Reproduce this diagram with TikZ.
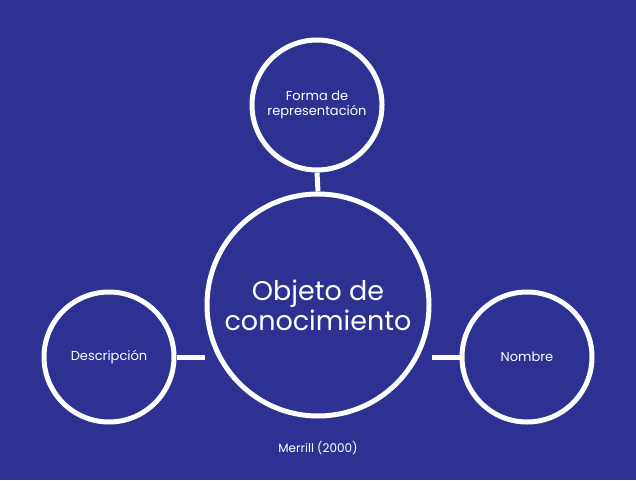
\documentclass[tikz,border=0pt]{standalone}
\usepackage{fontspec}
\setmainfont{Poppins}
\definecolor{bg}{HTML}{2E3192}
\begin{document}
\begin{tikzpicture}[x=1pt,y=1pt,
  circ/.style={circle,draw=white,line width=5pt,text=white,align=center,inner sep=0pt},
  conn/.style={draw=white,line width=5pt}]
\fill[bg] (0,0) rectangle (636,480);
\useasboundingbox (0,0) rectangle (636,480);
\node[circ,minimum size=222pt,font=\fontsize{27}{30}\selectfont] (c) at (318,175) {Objeto de\\conocimiento};
\node[circ,minimum size=130pt,font=\fontsize{13}{15}\selectfont] (t) at (317,375) {Forma de\\representación};
\node[circ,minimum size=130pt,font=\fontsize{13}{15}\selectfont] (l) at (109,123) {Descripción};
\node[circ,minimum size=130pt,font=\fontsize{13}{15}\selectfont] (r) at (527,123) {Nombre};
\draw[conn] (t.south) -- (c.north);
\draw[conn] (l.east) -- (l.east -| c.west);
\draw[conn] (r.west) -- (r.west -| c.east);
\node[text=white,font=\fontsize{12}{14}\selectfont] (m) at (318,32) {Merrill (2000)};
\end{tikzpicture}
\end{document}
